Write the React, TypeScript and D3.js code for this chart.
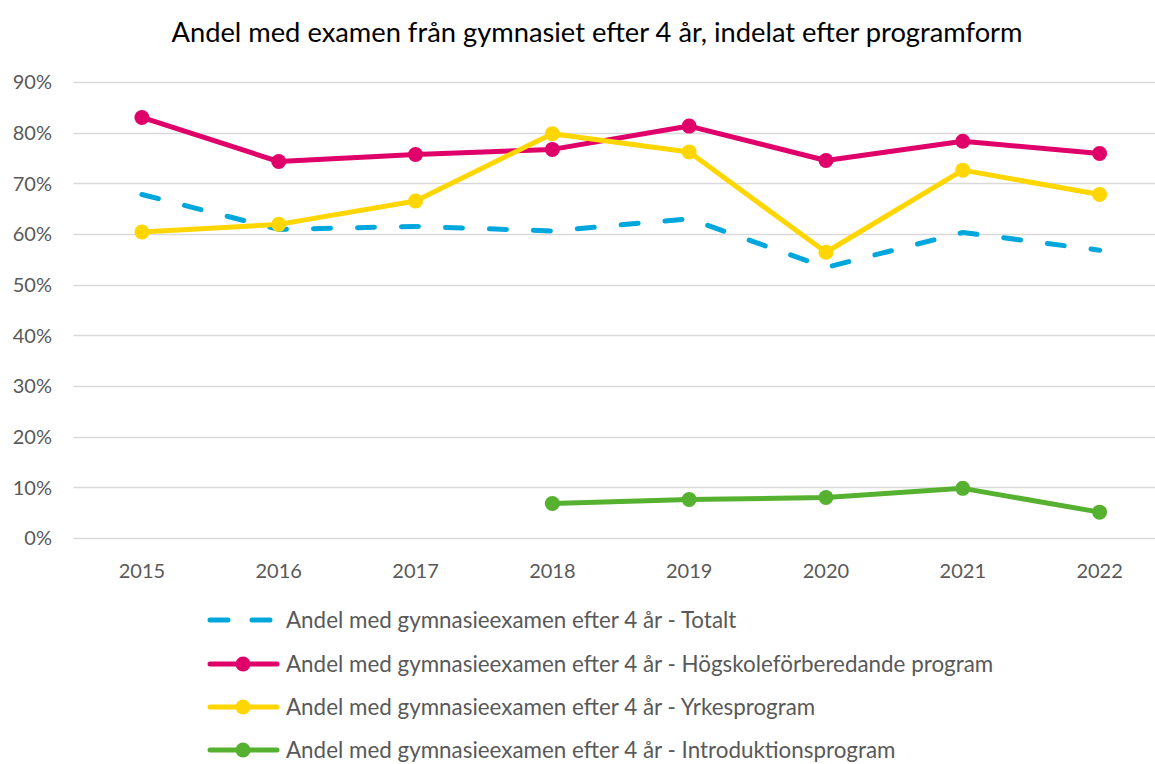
import { useEffect, useRef } from 'react';
import * as d3 from 'd3';

const WIDTH = 1155;
const HEIGHT = 764;
const MARGIN = { top: 82, right: -13, bottom: 226, left: 73.5 };

const years = ['2015', '2016', '2017', '2018', '2019', '2020', '2021', '2022'];
const yTicks = [0, 10, 20, 30, 40, 50, 60, 70, 80, 90];

// values in percent, null = no data
const totalt: (number | null)[] = [67.8, 60.9, 61.5, 60.6, 63.0, 53.4, 60.3, 56.8];
const hogskole: (number | null)[] = [83.0, 74.3, 75.7, 76.7, 81.3, 74.5, 78.3, 75.9];
const yrkes: (number | null)[] = [60.4, 61.9, 66.5, 79.8, 76.2, 56.4, 72.6, 67.8];
const intro: (number | null)[] = [null, null, null, 6.8, 7.6, 8.0, 9.8, 5.1];

const seriesNames = [
  'Andel med gymnasieexamen efter 4 år - Totalt',
  'Andel med gymnasieexamen efter 4 år - Högskoleförberedande program',
  'Andel med gymnasieexamen efter 4 år - Yrkesprogram',
  'Andel med gymnasieexamen efter 4 år - Introduktionsprogram',
];

const FONT = 'Lato, "Open Sans", sans-serif';
const TEXT = '#595959';

interface Series {
  name: string;
  values: (number | null)[];
  color: string;
  dashed: boolean;
}

const series: Series[] = [
  { name: seriesNames[0], values: totalt, color: '#00A7DD', dashed: true },
  { name: seriesNames[1], values: hogskole, color: '#E0006A', dashed: false },
  { name: seriesNames[2], values: yrkes, color: '#FFD600', dashed: false },
  { name: seriesNames[3], values: intro, color: '#57B130', dashed: false },
];

export default function App() {
  const svgRef = useRef<SVGSVGElement>(null);

  useEffect(() => {
    const svg = svgRef.current;
    if (!svg) return;
    const root = d3.select(svg);
    root.selectAll('*').remove();

    const x = d3
      .scaleBand()
      .domain(years)
      .range([MARGIN.left, WIDTH - MARGIN.right]);
    const y = d3
      .scaleLinear()
      .domain([0, 90])
      .range([HEIGHT - MARGIN.bottom, MARGIN.top]);
    const cx = (yr: string) => (x(yr) ?? 0) + x.bandwidth() / 2;

    // Title
    root
      .append('text')
      .attr('x', 597)
      .attr('y', 42)
      .attr('text-anchor', 'middle')
      .attr('font-family', FONT)
      .attr('font-size', '27.3px')
      .attr('fill', '#000')
      .text('Andel med examen från gymnasiet efter 4 år, indelat efter programform');

    // Gridlines
    root
      .append('g')
      .selectAll('line')
      .data(yTicks)
      .join('line')
      .attr('x1', MARGIN.left)
      .attr('x2', WIDTH - MARGIN.right)
      .attr('y1', (d) => Math.round(y(d)) + 0.5)
      .attr('y2', (d) => Math.round(y(d)) + 0.5)
      .attr('stroke', '#D9D9D9')
      .attr('stroke-width', 1.5);

    // Y labels
    root
      .append('g')
      .selectAll('text')
      .data(yTicks)
      .join('text')
      .attr('x', 52)
      .attr('y', (d) => y(d))
      .attr('dy', '0.36em')
      .attr('text-anchor', 'end')
      .attr('font-family', FONT)
      .attr('font-size', '20px')
      .attr('fill', TEXT)
      .text((d) => `${d}%`);

    // X labels
    root
      .append('g')
      .selectAll('text')
      .data(years)
      .join('text')
      .attr('x', (d) => cx(d))
      .attr('y', 578)
      .attr('text-anchor', 'middle')
      .attr('font-family', FONT)
      .attr('font-size', '20px')
      .attr('fill', TEXT)
      .text((d) => d);

    // Lines
    const line = d3
      .line<number | null>()
      .defined((d) => d !== null)
      .x((_d, i) => cx(years[i]))
      .y((d) => y(d as number));

    series.forEach((s) => {
      const g = root.append('g');
      g.append('path')
        .datum(s.values)
        .attr('d', line)
        .attr('fill', 'none')
        .attr('stroke', s.color)
        .attr('stroke-width', 5)
        .attr('stroke-linejoin', 'round')
        .attr('stroke-linecap', 'round')
        .attr('stroke-dasharray', s.dashed ? '17,27' : null);
      if (!s.dashed) {
        g.selectAll('circle')
          .data(s.values.map((v, i) => ({ v, i })).filter((d) => d.v !== null))
          .join('circle')
          .attr('cx', (d) => cx(years[d.i]))
          .attr('cy', (d) => y(d.v as number))
          .attr('r', 7.5)
          .attr('fill', s.color);
      }
    });

    // Legend
    const legend = root.append('g');
    const rowY = [620, 664, 707, 750];
    series.forEach((s, i) => {
      const row = legend.append('g').attr('transform', `translate(0,${rowY[i]})`);
      if (s.dashed) {
        row
          .append('line')
          .attr('x1', 210)
          .attr('x2', 272)
          .attr('stroke', s.color)
          .attr('stroke-width', 5)
          .attr('stroke-linecap', 'round')
          .attr('stroke-dasharray', '18,24');
      } else {
        row
          .append('line')
          .attr('x1', 210)
          .attr('x2', 277)
          .attr('stroke', s.color)
          .attr('stroke-width', 5)
          .attr('stroke-linecap', 'round');
        row.append('circle').attr('cx', 243).attr('cy', 0).attr('r', 7.5).attr('fill', s.color);
      }
      row
        .append('text')
        .attr('x', 286)
        .attr('y', 0)
        .attr('dy', '0.35em')
        .attr('font-family', FONT)
        .attr('font-size', '22.4px')
        .attr('fill', TEXT)
        .text(s.name);
    });
  }, []);

  return (
    <div style={{ position: 'absolute', left: 0, top: 0, width: WIDTH, height: HEIGHT, background: '#fff' }}>
      <svg ref={svgRef} width={WIDTH} height={HEIGHT} style={{ display: 'block' }} />
    </div>
  );
}
